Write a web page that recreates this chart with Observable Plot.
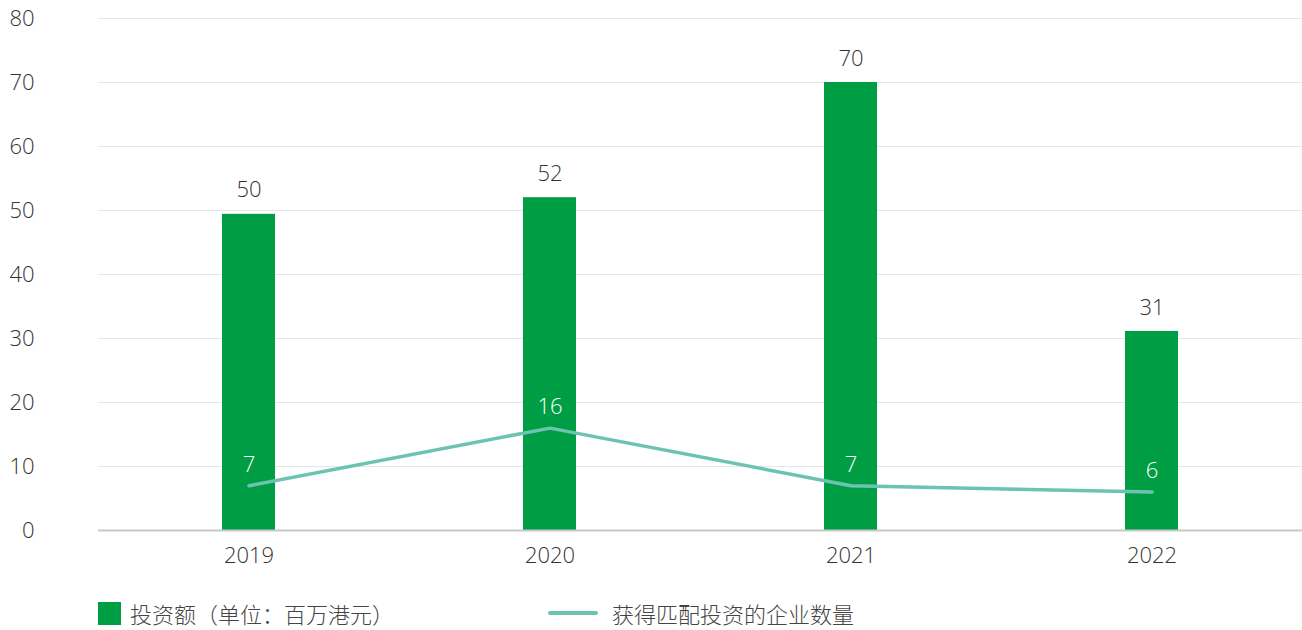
<!DOCTYPE html>
<html>
<head>
<meta charset="utf-8">
<script src="https://cdn.jsdelivr.net/npm/d3@7"></script>
<script src="https://cdn.jsdelivr.net/npm/@observablehq/plot@0.6"></script>
<style>
  html, body { margin: 0; padding: 0; background: #fff; }
  body { width: 1302px; height: 630px; overflow: hidden; font-family: "Open Sans", "Noto Sans CJK SC", sans-serif; }
  #legend { position: relative; height: 50px; font-family: "Noto Sans CJK SC", "Open Sans", sans-serif; font-size: 22px; font-weight: 300; color: #444; }
  .item { position: absolute; top: 10px; display: flex; align-items: center; height: 46px; }
  .sw-bar { width: 23px; height: 23px; background: #009e44; margin-right: 9px; }
  .sw-line { width: 50px; height: 4px; background: #6cc3b0; border-radius: 2px; margin-right: 14px; }
</style>
</head>
<body>
<div id="chart"></div>
<div id="legend">
  <div class="item" style="left:98px"><div class="sw-bar"></div><span id="l1"></span></div>
  <div class="item" style="left:548px"><div class="sw-line"></div><span id="l2"></span></div>
</div>
<script>
const years = ["2019", "2020", "2021", "2022"];
const investment = [49.4, 52, 70, 31.1];
const investmentLabels = ["50", "52", "70", "31"];
const companies = [7, 16, 7, 6];
const companyLabels = ["7", "16", "7", "6"];
const yTicks = [0, 10, 20, 30, 40, 50, 60, 70, 80];
const seriesNames = ["投资额（单位：百万港元）", "获得匹配投资的企业数量"];

const barData = years.map((y, i) => ({year: y, value: investment[i], label: investmentLabels[i]}));
const lineData = years.map((y, i) => ({year: y, value: companies[i], label: companyLabels[i]}));

const chart = Plot.plot({
  width: 1302,
  height: 580,
  marginLeft: 98,
  marginRight: 0,
  marginTop: 18,
  marginBottom: 50,
  style: {fontFamily: "'Open Sans', sans-serif", fontSize: "22px", fontWeight: 300, color: "#404040", background: "#fff"},
  x: {domain: years, paddingInner: 0.824, paddingOuter: 0.412, label: null},
  y: {domain: [0, 80], label: null},
  marks: [
    Plot.gridY(yTicks, {stroke: "#e6e6e6", strokeOpacity: 1, strokeWidth: 1}),
    Plot.barY(barData, {x: "year", y: "value", fill: "#009e44"}),
    Plot.ruleY([0], {stroke: "#c8c8c8", strokeWidth: 2}),
    Plot.line(lineData, {x: "year", y: "value", stroke: "#6cc3b0", strokeWidth: 3.5}),
    Plot.text(barData, {x: "year", y: "value", text: "label", dy: -24, fill: "#333", fontSize: 22, fontWeight: 300}),
    Plot.text(lineData, {x: "year", y: "value", text: "label", dy: -21, fill: "#fff", fontSize: 22, fontWeight: 300}),
    Plot.axisY(yTicks, {tickSize: 0, tickPadding: 64, fontSize: 22, fontWeight: 300, fill: "#333", label: null}),
    Plot.axisX({tickSize: 0, tickPadding: 17, fontSize: 22, fontWeight: 300, fill: "#333", label: null})
  ]
});
document.getElementById("chart").appendChild(chart);
document.getElementById("l1").textContent = seriesNames[0];
document.getElementById("l2").textContent = seriesNames[1];
</script>
</body>
</html>
